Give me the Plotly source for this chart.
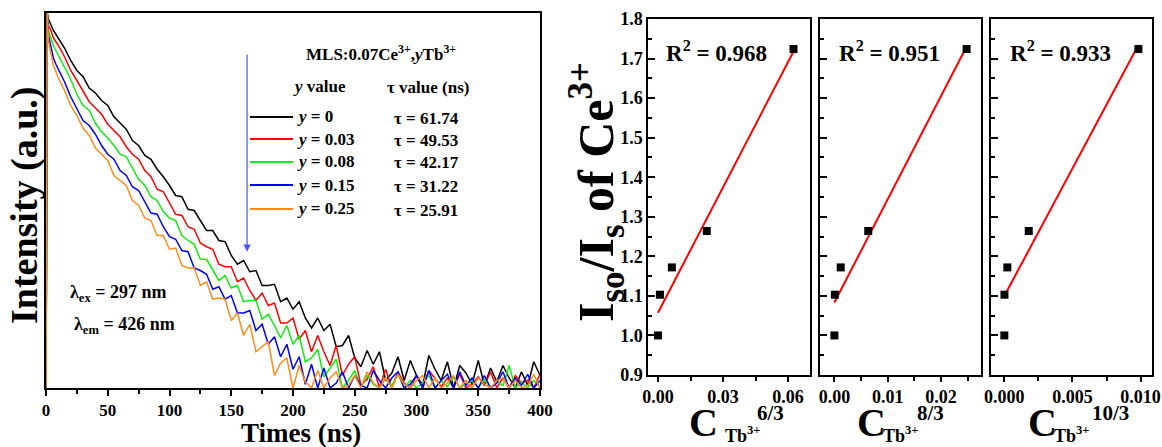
import numpy as np
import plotly.graph_objects as go

W, H = 1162, 447
FONT = "Liberation Serif"

# ---------------- Left panel: decay curves ----------------
times = [0, 1, 2, 4, 6, 8, 10] + list(range(15, 405, 5))

# log10(intensity, counts)
log_y0 = ([0.9, 4.00, 3.95, 3.90, 3.86, 3.83, 3.80]
          + [3.72, 3.62, 3.54, 3.49, 3.40, 3.36, 3.30, 3.26, 3.17, 3.12,
             3.07, 2.98, 2.94, 2.86, 2.83, 2.75, 2.69]
          + [2.62, 2.54, 2.53, 2.43, 2.42, 2.34, 2.26, 2.26, 2.18, 2.17,
             2.06, 1.99, 2.02, 1.93, 1.94, 1.82, 1.82, 1.83, 1.69, 1.72,
             1.63, 1.69, 1.56, 1.48, 1.56, 1.46, 1.51, 1.33, 1.34, 1.42,
             1.24, 1.17, 1.30, 1.19, 1.29, 1.06, 1.12, 1.25, 1.06]
          + [1.22, 1.10, 1.02, 1.26, 1.15, 1.06, 1.21, 1.00, 1.18, 1.12,
             1.03, 1.22, 1.02, 1.16, 1.05, 1.18, 1.08, 1.00, 1.13, 1.02,
             1.21, 1.10])
log_y003 = ([0.9, 4.00, 3.90, 3.86, 3.80, 3.77, 3.74]
            + [3.65, 3.54, 3.46, 3.37, 3.29, 3.24, 3.19, 3.11, 3.06, 3.01,
               2.93, 2.87, 2.83, 2.74, 2.69, 2.59, 2.57, 2.48, 2.39, 2.38,
               2.29, 2.27, 2.16, 2.13, 2.11, 1.99, 1.97, 1.97, 1.85, 1.88,
               1.78, 1.70, 1.76, 1.66, 1.68, 1.52, 1.52, 1.56, 1.39, 1.46,
               1.29, 1.42, 1.29, 1.18, 1.34, 1.10, 1.19, 1.25, 1.02, 1.07,
               1.17, 1.00, 1.15, 1.00]
            + [1.13, 1.04, 1.00, 1.10, 1.00, 1.14, 1.07, 1.01, 1.08, 1.00,
               1.11, 1.00, 1.03, 1.09, 1.02, 1.13, 1.00, 1.08, 1.00, 1.10,
               1.04, 1.06, 1.00, 1.11])
log_y008 = ([0.9, 4.00, 3.86, 3.79, 3.74, 3.70, 3.66]
            + [3.56, 3.47, 3.35, 3.26, 3.22, 3.12, 3.05, 3.00, 2.94, 2.87,
               2.85, 2.76, 2.67, 2.62, 2.53, 2.50, 2.41, 2.36, 2.34, 2.22,
               2.18, 2.15, 2.03, 2.03, 1.94, 1.86, 1.90, 1.80, 1.82, 1.69,
               1.70, 1.70, 1.55, 1.59, 1.50, 1.40, 1.50, 1.35, 1.42, 1.21,
               1.24, 1.31, 1.09, 1.16, 1.23, 1.00, 1.06, 1.14]
            + [1.00, 1.10, 1.03, 1.00, 1.08, 1.02, 1.11, 1.00, 1.06, 1.00,
               1.04, 1.10, 1.00, 1.06, 1.01, 1.09, 1.00, 1.03, 1.06, 1.00,
               1.07, 1.00, 1.05, 1.02, 1.18, 1.00, 1.05, 1.00, 1.06, 1.01])
log_y015 = ([0.9, 4.00, 3.82, 3.72, 3.64, 3.59, 3.55]
            + [3.45, 3.33, 3.23, 3.14, 3.10, 3.03, 2.94, 2.87, 2.83, 2.74,
               2.70, 2.61, 2.58, 2.49, 2.40, 2.39, 2.29, 2.21, 2.19, 2.10,
               2.09, 1.96, 1.94, 1.91, 1.79, 1.81, 1.71, 1.74, 1.60, 1.60,
               1.62, 1.46, 1.51, 1.35, 1.41, 1.25, 1.35, 1.15, 1.25, 1.03,
               1.19, 1.00]
            + [1.16, 1.00, 1.04, 1.13, 1.00, 1.10, 1.02, 1.00, 1.14, 1.06,
               1.00, 1.08, 1.13, 1.00, 1.03, 1.10, 1.00, 1.14, 1.00, 1.06,
               1.11, 1.00, 1.13, 1.02, 1.08, 1.00, 1.10, 1.00, 1.04, 1.13,
               1.00, 1.08, 1.02, 1.11, 1.00, 1.06])
log_y025 = ([0.9, 4.00, 3.77, 3.66, 3.58, 3.53, 3.48]
            + [3.38, 3.26, 3.18, 3.08, 3.02, 2.92, 2.87, 2.82, 2.70, 2.66,
               2.62, 2.50, 2.46, 2.36, 2.34, 2.22, 2.22, 2.11, 2.12, 1.98,
               1.96, 1.96, 1.82, 1.85, 1.71, 1.72, 1.71, 1.54, 1.60, 1.42,
               1.51, 1.29, 1.33, 1.37, 1.10, 1.20, 1.24, 1.00]
            + [1.18, 1.05, 1.00, 1.14, 1.00, 1.08, 1.13, 1.00, 1.02, 1.10,
               1.00, 1.13, 1.04, 1.00, 1.08, 1.00, 1.11, 1.03, 1.00, 1.06,
               1.10, 1.00, 1.08, 1.00, 1.04, 1.10, 1.00, 1.06, 1.00, 1.08,
               1.03, 1.00, 1.06, 1.08, 1.00, 1.06, 1.00, 1.02, 1.11, 1.00])

series_names = ["<i>y</i> = 0", "<i>y</i> = 0.03", "<i>y</i> = 0.08",
                "<i>y</i> = 0.15", "<i>y</i> = 0.25"]
series_logs = [log_y0, log_y003, log_y008, log_y015, log_y025]
series_colors = ["#000000", "#ff0000", "#11ee11", "#0000ff", "#ff8c1a"]
tau_values = ["61.74", "49.53", "42.17", "31.22", "25.91"]
for s in series_logs:
    assert len(s) == len(times), (len(s), len(times))

# ---------------- Right panels: Dexter analysis ----------------
ratio = [1.000, 1.103, 1.172, 1.264, 1.724]       # I_so / I_s
c_6_3 = [0.0, 0.0009, 0.0064, 0.0225, 0.0625]
c_8_3 = [0.0, 0.000087, 0.00119, 0.00635, 0.0248]
c_10_3 = [0.0, 0.0000084, 0.00022, 0.00179, 0.00984]
r2_labels = ["0.968", "0.951", "0.933"]
powers = ["6/3", "8/3", "10/3"]


def PX(x):
    return x / W


def PY(y):
    return 1 - y / H


fig = go.Figure()

for name, logs, col in zip(series_names, series_logs, series_colors):
    fig.add_trace(go.Scatter(
        x=times, y=10 ** np.array(logs), mode="lines", name=name,
        line=dict(color=col, width=1.5), xaxis="x", yaxis="y",
        showlegend=False))

for i, cx in enumerate([c_6_3, c_8_3, c_10_3]):
    xa = "x%d" % (i + 2)
    ya = "y%d" % (i + 2)
    slope, icpt = np.polyfit(cx, ratio, 1)
    xf = np.array([0.0, max(cx)])
    fig.add_trace(go.Scatter(x=xf, y=icpt + slope * xf, mode="lines",
                             line=dict(color="#ff0000", width=2),
                             xaxis=xa, yaxis=ya, showlegend=False))
    fig.add_trace(go.Scatter(x=cx, y=ratio, mode="markers",
                             marker=dict(symbol="square", size=8, color="black"),
                             xaxis=xa, yaxis=ya, showlegend=False))

axis_common = dict(showline=True, mirror=True, linecolor="black", linewidth=1.5,
                   showgrid=False, zeroline=False, automargin=False)

tickfont_l = dict(family=FONT, size=17, color="black", weight="bold")
tickfont_r = dict(family=FONT, size=18, color="black", weight="bold")

layout = dict(
    width=W, height=H, margin=dict(l=0, r=0, t=0, b=0, autoexpand=False),
    paper_bgcolor="white", plot_bgcolor="white",
    font=dict(family=FONT, color="black", weight="bold"),
    xaxis=dict(domain=[PX(46), PX(540)], range=[0, 400], dtick=50, tick0=0,
               ticks="outside", ticklen=6, tickwidth=1.5, tickcolor="black",
               minor=dict(dtick=25, ticks="outside", ticklen=4, tickcolor="black"),
               tickfont=tickfont_l, anchor="y", **axis_common),
    yaxis=dict(domain=[PY(388), PY(13)], type="log", range=[1, 4],
               showticklabels=False, ticks="", anchor="x", **axis_common),
)

right_x = [(648, 810, [-0.0046, 0.0701], 0.03, 0.015, ".2f"),
           (820, 981, [-0.0027, 0.0275], 0.01, 0.005, ".2f"),
           (991, 1152, [-0.00098, 0.01084], 0.005, 0.0025, ".3f")]
for i, (x0, x1, rng, dt, mdt, fmt) in enumerate(right_x):
    k = i + 2
    layout["xaxis%d" % k] = dict(domain=[PX(x0), PX(x1)], range=rng, dtick=dt, tick0=0,
                                 tickformat=fmt, ticks="outside", ticklen=5, tickwidth=1.5,
                                 tickcolor="black",
                                 minor=dict(dtick=mdt, ticks="outside", ticklen=4,
                                            tickcolor="black"),
                                 tickfont=tickfont_r, anchor="y%d" % k, **axis_common)
    layout["yaxis%d" % k] = dict(domain=[PY(375), PY(19)], range=[0.9, 1.8], dtick=0.1,
                                 tick0=0.9, tickformat=".1f", ticks="inside", ticklen=7,
                                 tickwidth=1.5, tickcolor="black",
                                 minor=dict(dtick=0.05, ticks="inside", ticklen=4,
                                            tickcolor="black"),
                                 showticklabels=(k == 2), tickfont=tickfont_r,
                                 anchor="x%d" % k, **axis_common)

fig.update_layout(**layout)


def txt(x, y, s, size, xanchor="center", angle=0):
    fig.add_annotation(x=PX(x), y=PY(y), xref="paper", yref="paper", text=s,
                       showarrow=False, xanchor=xanchor, yanchor="middle",
                       textangle=angle,
                       font=dict(family=FONT, size=size, color="black", weight="bold"))


# Left panel texts
txt(381, 53, "MLS:0.07Ce<sup>3+</sup>,<i>y</i>Tb<sup>3+</sup>", 17)
txt(319, 86, "<i>y</i> value", 17)
txt(428, 88, "\u03c4 value (ns)", 17)

# hand-drawn legend (line samples + labels) and tau column
legend_rows = [117, 139, 162, 185, 209]
for r, name, col, tv in zip(legend_rows, series_names, series_colors, tau_values):
    fig.add_shape(type="line", xref="paper", yref="paper",
                  x0=PX(250), x1=PX(293), y0=PY(r), y1=PY(r),
                  line=dict(color=col, width=2))
    txt(295, r, name, 17, xanchor="left")
    txt(392, r + 1, "\u03c4 = " + tv, 17, xanchor="left")

txt(68, 293, "\u03bb<sub>ex</sub> = 297 nm", 18, xanchor="left")
txt(72, 325, "\u03bb<sub>em</sub> = 426 nm", 18, xanchor="left")
txt(301, 433, "Times (ns)", 27)
txt(24, 205, "Intensity (a.u.)", 38, angle=-90)

# blue arrow
fig.add_annotation(x=162.8, y=2.09, ax=162.8, ay=3.68, xref="x", yref="y",
                   axref="x", ayref="y", text="", showarrow=True, arrowhead=2,
                   arrowsize=1.2, arrowwidth=1.2, arrowcolor="#4455ff")

# Right panel texts
txt(596, 192, "I<sub>so</sub>/I<sub>s</sub> of Ce<sup>3+</sup>", 50, angle=-90)
for cx_, lab in zip([716, 889, 1060], r2_labels):
    txt(cx_, 52, "R<sup>2</sup> = " + lab, 23)
for (cC, cT, cP), p in zip([(703, 743, 770), (871, 901, 930), (1042, 1072, 1110)], powers):
    txt(cC, 422, "C", 40)
    txt(cT, 434, "Tb<sup>3+</sup>", 18)
    txt(cP, 413, p, 21)

fig.write_html("out.html", config={"displayModeBar": False},
               post_script="document.body.style.margin='0px';")
